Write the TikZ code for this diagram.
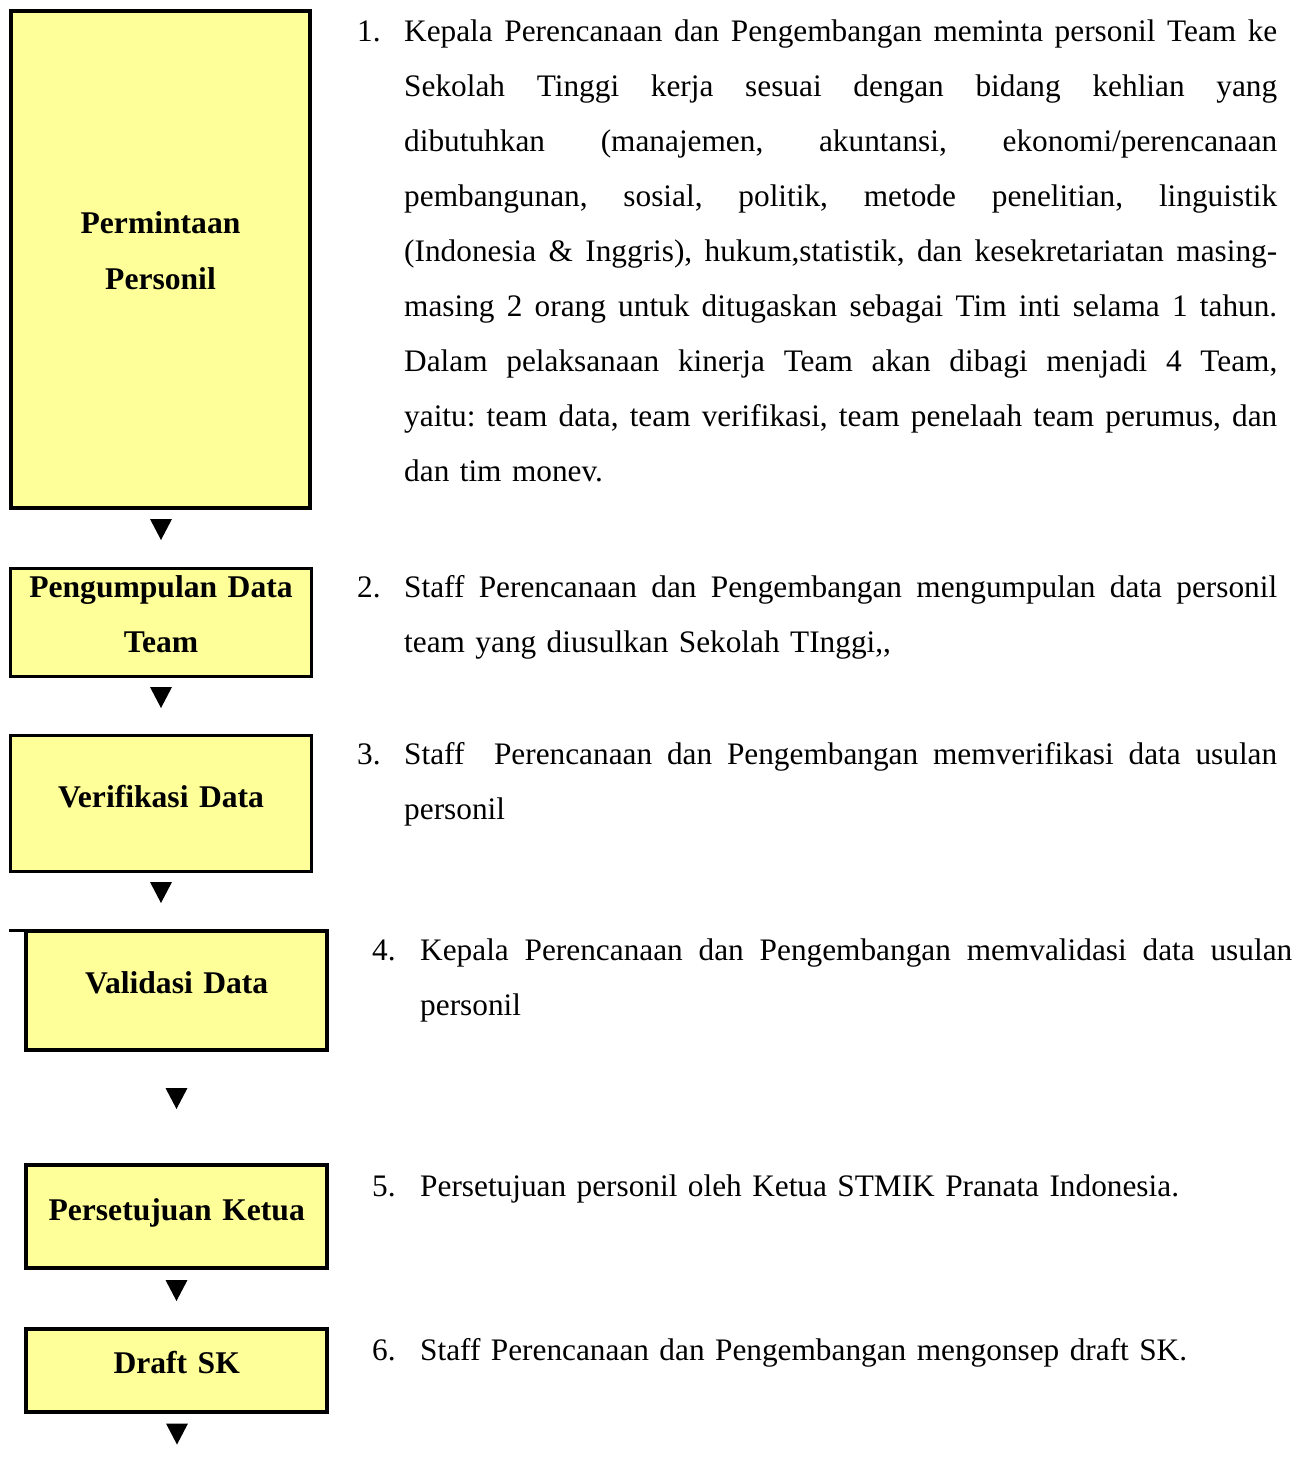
\documentclass[tikz,border=0pt]{standalone}
\usepackage{fontspec}
\setmainfont{Liberation Serif}
\definecolor{boxfill}{RGB}{255,255,153}
\newcommand\bodyfont{\fontsize{31.3}{55}\selectfont\frenchspacing}
\newcommand\g{ \hfil}
\begin{document}
\begin{tikzpicture}[x=1pt,y=-1pt,
  box/.style={draw=black,fill=boxfill,inner sep=0pt,outer sep=0pt},
  boxlabel/.style={font=\fontsize{31.6}{55}\selectfont\bfseries,text width=300pt,align=center,anchor=base,inner sep=0pt},
  num/.style={font=\bodyfont,anchor=base west,inner sep=0pt},
  itemtext/.style={font=\bodyfont,anchor=base west,inner sep=0pt,text width=#1},
  downtri/.pic={\fill[black] (-11,-10.5) -- (11,-10.5) -- (0,10.5) -- cycle;}
]
\useasboundingbox (0,0) rectangle (1309,1463);

% boxes
\node[box,line width=4,minimum width=299,minimum height=497] (b1) at (160.5,259.5) {};
\node[box,line width=3,minimum width=300.4,minimum height=108.5] (b2) at (161,622.5) {};
\node[box,line width=3,minimum width=300.4,minimum height=136] (b3) at (161,803.8) {};
\node[box,line width=4,minimum width=300.7,minimum height=119] (b4) at (176.7,990.8) {};
\node[box,line width=4,minimum width=300.7,minimum height=102.7] (b5) at (176.7,1216.7) {};
\node[box,line width=4,minimum width=300.7,minimum height=83.6] (b6) at (176.7,1370.5) {};

\coordinate (stub) at (9,930.5);
\draw[line width=2.3] (stub) -- (stub -| b4.west);

% box labels
\node[boxlabel] (l1) at (160.5,234) {Permintaan\\Personil};
\node[boxlabel] (l2) at (161,597) {Pengumpulan Data\\Team};
\node[boxlabel] (l3) at (161,807) {Verifikasi Data};
\node[boxlabel] (l4) at (176.7,993) {Validasi Data};
\node[boxlabel] (l5) at (176.7,1220) {Persetujuan Ketua};
\node[boxlabel] (l6) at (176.7,1373) {Draft SK};

% triangles
\pic (t1) at (161,529.5) {downtri};
\pic (t2) at (161,697.5) {downtri};
\pic (t3) at (161,892.5) {downtri};
\pic (t4) at (176.5,1098.5) {downtri};
\pic (t5) at (176.5,1290.5) {downtri};
\pic (t6) at (177,1434) {downtri};

% numbers
\node[num] (n1) at (357,42) {1.};
\node[num] (n2) at (357,597) {2.};
\node[num] (n3) at (357,764) {3.};
\node[num] (n4) at (372,960) {4.};
\node[num] (n5) at (372,1196) {5.};
\node[num] (n6) at (372,1360) {6.};

% item texts
\node[itemtext=873pt] (i1) at (404,42) {%
\hbox to873pt{Kepala\g Perencanaan\g dan\g Pengembangan\g meminta\g personil\g Team\g ke}
\hbox to873pt{Sekolah\g Tinggi\g kerja\g sesuai\g dengan\g bidang\g kehlian\g yang}
\hbox to873pt{dibutuhkan\g (manajemen,\g akuntansi,\g ekonomi/perencanaan}
\hbox to873pt{pembangunan,\g sosial,\g politik,\g metode\g penelitian,\g linguistik}
\hbox to873pt{(Indonesia\g \&\g Inggris),\g hukum,statistik,\g dan\g kesekretariatan\g masing-}
\hbox to873pt{masing\g 2\g orang\g untuk\g ditugaskan\g sebagai\g Tim\g inti\g selama\g 1\g tahun.}
\hbox to873pt{Dalam\g pelaksanaan\g kinerja\g Team\g akan\g dibagi\g menjadi\g 4\g Team,}
\hbox to873pt{yaitu:\g team\g data,\g team\g verifikasi,\g team\g penelaah\g team\g perumus,\g dan}
\hbox{dan tim monev.}};

\node[itemtext=873pt] (i2) at (404,597) {%
\hbox to873pt{Staff\g Perencanaan\g dan\g Pengembangan\g mengumpulan\g data\g personil}
\hbox{team yang diusulkan Sekolah TInggi,{},}};

\node[itemtext=873pt] (i3) at (404,764) {%
\hbox to873pt{Staff\g\g Perencanaan\g dan\g Pengembangan\g memverifikasi\g data\g usulan}
\hbox{personil}};

\node[itemtext=872pt] (i4) at (420,960) {%
\hbox to872pt{Kepala\g Perencanaan\g dan\g Pengembangan\g memvalidasi\g data\g usulan}
\hbox{personil}};

\node[itemtext=872pt] (i5) at (420,1196) {%
\hbox{Persetujuan personil oleh Ketua STMIK Pranata Indonesia.}};

\node[itemtext=872pt] (i6) at (420,1360) {%
\hbox{Staff Perencanaan dan Pengembangan mengonsep draft SK.}};
\end{tikzpicture}
\end{document}
